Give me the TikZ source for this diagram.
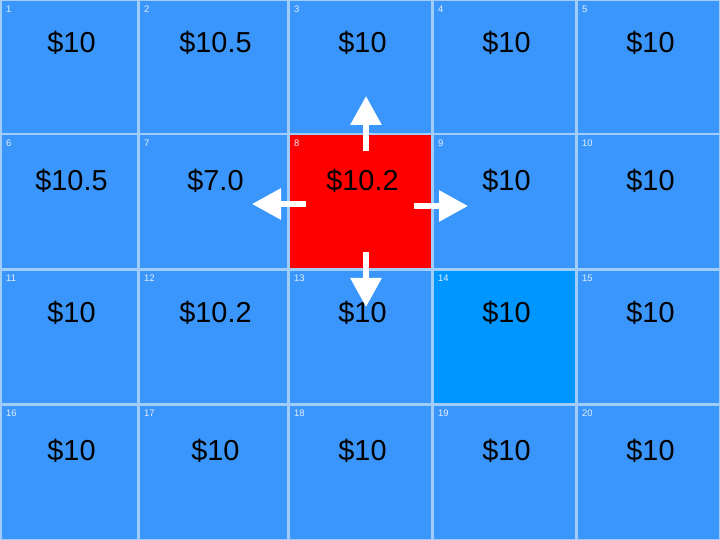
\documentclass[tikz,border=0pt]{standalone}
\usepackage{fontspec}
\setmainfont{Liberation Sans}
\usetikzlibrary{arrows.meta}
\definecolor{cellblue}{RGB}{58,150,250}
\definecolor{hiblue}{RGB}{0,150,255}
\definecolor{gridline}{RGB}{160,205,250}
\definecolor{idtext}{RGB}{230,240,255}

\begin{document}
\begin{tikzpicture}[
  x=1bp, y=-1bp,
  cell/.style={draw=gridline, line width=1.5bp, anchor=north west, inner sep=0pt},
  price/.style={font=\fontsize{29}{32}\selectfont, text=black},
  cellid/.style={font=\fontsize{9.5}{10}\selectfont, text=idtext, anchor=north west, inner sep=0pt},
  move/.style={white, line width=6bp, -{Triangle[length=29bp,width=30bp]}}
]
  \useasboundingbox (0,0) rectangle (720,540);
  \def\xs{{0,138,288,432,576,720}}
  \def\ys{{0,134,269,404,540}}
  \def\dys{{43,47,44,47}}
  % cells, numbered row by row
  \foreach \i/\v in {1/10,2/10.5,3/10,4/10,5/10,6/10.5,7/7.0,8/10.2,9/10,10/10,
                     11/10,12/10.2,13/10,14/10,15/10,16/10,17/10,18/10,19/10,20/10} {
    \pgfmathtruncatemacro\c{mod(\i-1,5)}
    \pgfmathtruncatemacro\r{div(\i-1,5)}
    \pgfmathsetmacro\xa{\xs[\c]}
    \pgfmathsetmacro\xb{\xs[\c+1]}
    \pgfmathsetmacro\ya{\ys[\r]}
    \pgfmathsetmacro\yb{\ys[\r+1]}
    \pgfmathsetmacro\dy{\dys[\r]}
    \def\f{cellblue}
    \ifnum\i=8 \def\f{red}\fi
    \ifnum\i=14 \def\f{hiblue}\fi
    \node[cell, fill=\f, minimum width=\xb-\xa, minimum height=\yb-\ya] (c\i) at (\xa,\ya) {};
    \node[cellid] (n\i) at ([shift={(6bp,-6bp)}]c\i.north west) {\i};
    \node[price] (p\i) at ([shift={(2bp,-\dy bp)}]c\i.north) {\$\v};
  }

  % possible moves
  \coordinate (up0) at (366,151);    \coordinate (up1) at (366,96);
  \coordinate (dn0) at (366,252);    \coordinate (dn1) at (366,307);
  \coordinate (lf0) at (306,204);    \coordinate (lf1) at (252,204);
  \coordinate (rt0) at (414,206);    \coordinate (rt1) at (468,206);
  \draw[move] (up0) -- (up1);
  \draw[move] (dn0) -- (dn1);
  \draw[move] (lf0) -- (lf1);
  \draw[move] (rt0) -- (rt1);
\end{tikzpicture}
\end{document}
